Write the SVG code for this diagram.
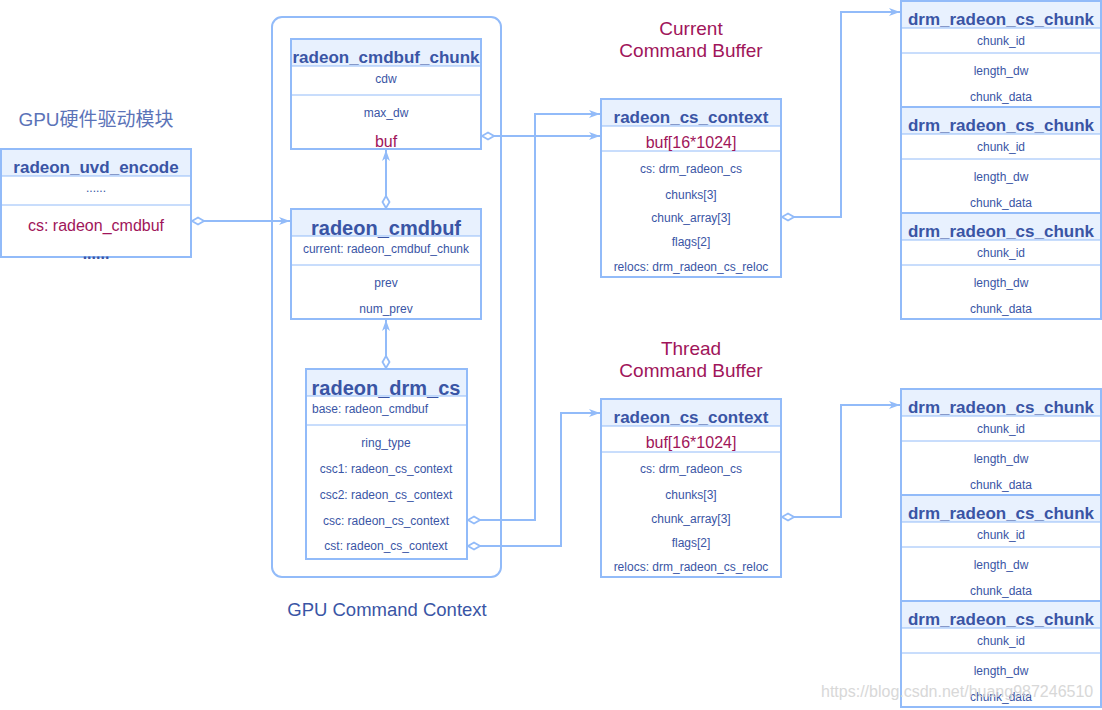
<svg xmlns="http://www.w3.org/2000/svg" width="1102" height="710" viewBox="0 0 1102 710">
<style>
.box{fill:#fff;stroke:#92bbf9;stroke-width:2}
.hdr{fill:#e8f1fe;stroke:none}
.div{stroke:#92bbf9;stroke-width:1;fill:none}
.t{font-family:"Liberation Sans",Arial,sans-serif;fill:#3a55a5;text-anchor:middle}
.title{font-size:17px;font-weight:bold}
.big{font-size:20px;font-weight:bold}
.s{font-size:12px}
.red{font-size:16px;fill:#a0155a}
.lbl{font-size:19px;fill:#a0155a}
.conn{fill:none;stroke:#92bbf9;stroke-width:2}
</style>
<defs>
<marker id="arr" markerWidth="12" markerHeight="10" refX="11" refY="5" orient="auto" markerUnits="userSpaceOnUse"><path d="M0,1 L11,5 L0,9 L3,5 z" fill="#92bbf9"/></marker>
<marker id="dia" markerWidth="14" markerHeight="10" refX="1" refY="5" orient="auto" markerUnits="userSpaceOnUse"><path d="M1,5 L7,1.5 L13,5 L7,8.5 z" fill="#fff" stroke="#92bbf9" stroke-width="1.8"/></marker>
</defs>
<rect width="1102" height="710" fill="#fff"/>

<text class="t" x="96" y="126" style="font-size:19px;fill:#5b73b8;font-family:'Liberation Sans','Noto Sans CJK SC',sans-serif">GPU硬件驱动模块</text>

<g id="container">
<rect x="272" y="17" width="229" height="560" rx="10" fill="none" stroke="#92bbf9" stroke-width="2"/>
<text class="t" x="387" y="616" style="font-size:18.5px">GPU Command Context</text>
</g>

<g id="current-label"><text class="t lbl" x="691" y="35">Current</text><text class="t lbl" x="691" y="57">Command Buffer</text></g>
<g id="thread-label"><text class="t lbl" x="691" y="355">Thread</text><text class="t lbl" x="691" y="377">Command Buffer</text></g>

<g id="radeon_uvd_encode">
<rect class="box" x="1" y="149" width="190" height="108"/>
<rect class="hdr" x="2" y="150" width="188" height="26"/>
<line class="div" x1="1" y1="176" x2="191" y2="176"/>
<line class="div" x1="1" y1="205" x2="191" y2="205"/>
<text class="t title" x="96" y="173">radeon_uvd_encode</text>
<text class="t s" x="96" y="192">......</text>
<text class="t red" x="96" y="231">cs: radeon_cmdbuf</text>
<text class="t" x="96" y="259" style="font-size:16px;font-weight:bold">......</text>
</g>

<g id="radeon_cmdbuf_chunk">
<rect class="box" x="291" y="39" width="190" height="110"/>
<rect class="hdr" x="292" y="40" width="188" height="26"/>
<line class="div" x1="291" y1="66" x2="481" y2="66"/>
<line class="div" x1="291" y1="95" x2="481" y2="95"/>
<text class="t title" x="386" y="63">radeon_cmdbuf_chunk</text>
<text class="t s" x="386" y="83">cdw</text>
<text class="t s" x="386" y="117">max_dw</text>
<text class="t red" x="386" y="147">buf</text>
</g>

<g id="radeon_cmdbuf">
<rect class="box" x="291" y="209" width="190" height="110"/>
<rect class="hdr" x="292" y="210" width="188" height="26"/>
<line class="div" x1="291" y1="236" x2="481" y2="236"/>
<line class="div" x1="291" y1="265" x2="481" y2="265"/>
<text class="t big" x="386" y="235">radeon_cmdbuf</text>
<text class="t s" x="386" y="253">current: radeon_cmdbuf_chunk</text>
<text class="t s" x="386" y="287">prev</text>
<text class="t s" x="386" y="313">num_prev</text>
</g>

<g id="radeon_drm_cs">
<rect class="box" x="306" y="369" width="161" height="190"/>
<rect class="hdr" x="307" y="370" width="159" height="26"/>
<line class="div" x1="306" y1="396" x2="467" y2="396"/>
<line class="div" x1="306" y1="425" x2="467" y2="425"/>
<text class="t big" x="386" y="395">radeon_drm_cs</text>
<text class="t s" x="312" y="413" style="text-anchor:start">base: radeon_cmdbuf</text>
<text class="t s" x="386" y="447">ring_type</text>
<text class="t s" x="386" y="473">csc1: radeon_cs_context</text>
<text class="t s" x="386" y="499">csc2: radeon_cs_context</text>
<text class="t s" x="386" y="525">csc: radeon_cs_context</text>
<text class="t s" x="386" y="550">cst: radeon_cs_context</text>
</g>

<g id="cs_context_current">
<rect class="box" x="601" y="99" width="180" height="178"/>
<rect class="hdr" x="602" y="100" width="178" height="26"/>
<line class="div" x1="601" y1="126" x2="781" y2="126"/>
<line class="div" x1="601" y1="151" x2="781" y2="151"/>
<text class="t title" x="691" y="123">radeon_cs_context</text>
<text class="t red" x="691" y="148">buf[16*1024]</text>
<text class="t s" x="691" y="173">cs: drm_radeon_cs</text>
<text class="t s" x="691" y="199">chunks[3]</text>
<text class="t s" x="691" y="222">chunk_array[3]</text>
<text class="t s" x="691" y="246">flags[2]</text>
<text class="t s" x="691" y="271">relocs: drm_radeon_cs_reloc</text>
</g>

<g id="cs_context_thread">
<rect class="box" x="601" y="399" width="180" height="178"/>
<rect class="hdr" x="602" y="400" width="178" height="26"/>
<line class="div" x1="601" y1="426" x2="781" y2="426"/>
<line class="div" x1="601" y1="452" x2="781" y2="452"/>
<text class="t title" x="691" y="423">radeon_cs_context</text>
<text class="t red" x="691" y="448">buf[16*1024]</text>
<text class="t s" x="691" y="473">cs: drm_radeon_cs</text>
<text class="t s" x="691" y="499">chunks[3]</text>
<text class="t s" x="691" y="523">chunk_array[3]</text>
<text class="t s" x="691" y="547">flags[2]</text>
<text class="t s" x="691" y="571">relocs: drm_radeon_cs_reloc</text>
</g>

<g id="chunk_c1">
<rect class="box" x="901" y="1" width="200" height="106"/>
<rect class="hdr" x="902" y="2" width="198" height="26"/>
<line class="div" x1="901" y1="28" x2="1101" y2="28"/>
<line class="div" x1="901" y1="53" x2="1101" y2="53"/>
<text class="t title" x="1001" y="25">drm_radeon_cs_chunk</text>
<text class="t s" x="1001" y="45">chunk_id</text>
<text class="t s" x="1001" y="75">length_dw</text>
<text class="t s" x="1001" y="101">chunk_data</text>
</g>
<g id="chunk_c2">
<rect class="box" x="901" y="107" width="200" height="106"/>
<rect class="hdr" x="902" y="108" width="198" height="26"/>
<line class="div" x1="901" y1="134" x2="1101" y2="134"/>
<line class="div" x1="901" y1="159" x2="1101" y2="159"/>
<text class="t title" x="1001" y="131">drm_radeon_cs_chunk</text>
<text class="t s" x="1001" y="151">chunk_id</text>
<text class="t s" x="1001" y="181">length_dw</text>
<text class="t s" x="1001" y="207">chunk_data</text>
</g>
<g id="chunk_c3">
<rect class="box" x="901" y="213" width="200" height="106"/>
<rect class="hdr" x="902" y="214" width="198" height="26"/>
<line class="div" x1="901" y1="240" x2="1101" y2="240"/>
<line class="div" x1="901" y1="265" x2="1101" y2="265"/>
<text class="t title" x="1001" y="237">drm_radeon_cs_chunk</text>
<text class="t s" x="1001" y="257">chunk_id</text>
<text class="t s" x="1001" y="287">length_dw</text>
<text class="t s" x="1001" y="313">chunk_data</text>
</g>

<g id="chunk_t1">
<rect class="box" x="901" y="389" width="200" height="106"/>
<rect class="hdr" x="902" y="390" width="198" height="26"/>
<line class="div" x1="901" y1="416" x2="1101" y2="416"/>
<line class="div" x1="901" y1="441" x2="1101" y2="441"/>
<text class="t title" x="1001" y="413">drm_radeon_cs_chunk</text>
<text class="t s" x="1001" y="433">chunk_id</text>
<text class="t s" x="1001" y="463">length_dw</text>
<text class="t s" x="1001" y="489">chunk_data</text>
</g>
<g id="chunk_t2">
<rect class="box" x="901" y="495" width="200" height="106"/>
<rect class="hdr" x="902" y="496" width="198" height="26"/>
<line class="div" x1="901" y1="522" x2="1101" y2="522"/>
<line class="div" x1="901" y1="547" x2="1101" y2="547"/>
<text class="t title" x="1001" y="519">drm_radeon_cs_chunk</text>
<text class="t s" x="1001" y="539">chunk_id</text>
<text class="t s" x="1001" y="569">length_dw</text>
<text class="t s" x="1001" y="595">chunk_data</text>
</g>
<g id="chunk_t3">
<rect class="box" x="901" y="601" width="200" height="106"/>
<rect class="hdr" x="902" y="602" width="198" height="26"/>
<line class="div" x1="901" y1="628" x2="1101" y2="628"/>
<line class="div" x1="901" y1="653" x2="1101" y2="653"/>
<text class="t title" x="1001" y="625">drm_radeon_cs_chunk</text>
<text class="t s" x="1001" y="645">chunk_id</text>
<text class="t s" x="1001" y="675">length_dw</text>
<text class="t s" x="1001" y="701">chunk_data</text>
</g>

<g id="connectors">
<path class="conn" d="M192,221 L290,221" marker-start="url(#dia)" marker-end="url(#arr)"/>
<path class="conn" d="M386,208 L386,150" marker-start="url(#dia)" marker-end="url(#arr)"/>
<path class="conn" d="M386,368 L386,320" marker-start="url(#dia)" marker-end="url(#arr)"/>
<path class="conn" d="M482,136 L600,136" marker-start="url(#dia)" marker-end="url(#arr)"/>
<path class="conn" d="M468,520 L535,520 L535,114 L600,114" marker-start="url(#dia)" marker-end="url(#arr)"/>
<path class="conn" d="M468,546 L561,546 L561,413 L600,413" marker-start="url(#dia)" marker-end="url(#arr)"/>
<path class="conn" d="M782,217 L841,217 L841,12 L900,12" marker-start="url(#dia)" marker-end="url(#arr)"/>
<path class="conn" d="M782,517 L841,517 L841,405 L900,405" marker-start="url(#dia)" marker-end="url(#arr)"/>
</g>

<text x="821" y="697" style="font-family:'Liberation Sans',Arial,sans-serif;font-size:16px;fill:#d4d4d4;opacity:0.9">https://blog.csdn.net/huang987246510</text>
</svg>
